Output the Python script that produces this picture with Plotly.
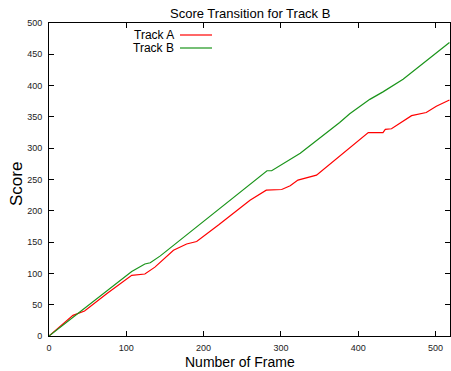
import plotly.graph_objects as go

# Data
track_a_x = [0, 31, 46, 75, 107, 124, 137, 161, 178, 191, 220, 260, 281, 301, 312, 322, 346, 389, 413, 432, 435, 443, 469, 488, 501, 518]
track_a_y = [0, 33, 40, 68, 97, 99, 110, 137, 147, 151, 178, 217, 233, 234, 240, 249, 257, 300, 325, 325, 330, 331, 352, 357, 367, 377]
track_b_x = [0, 107, 124, 131, 144, 200, 247, 260, 282, 288, 325, 376, 389, 415, 432, 458, 518]
track_b_y = [0, 103, 115, 117, 128, 183, 229, 241, 264, 264, 292, 341, 355, 378, 390, 410, 469]

x_ticks = [0, 100, 200, 300, 400, 500]
y_ticks = [0, 50, 100, 150, 200, 250, 300, 350, 400, 450, 500]

RED = "#ff0000"
GREEN = "#1a941a"
FONT = "Liberation Sans"

fig = go.Figure()
fig.add_trace(go.Scatter(x=track_a_x, y=track_a_y, mode="lines", name="Track A",
                         line=dict(color=RED, width=1.2)))
fig.add_trace(go.Scatter(x=track_b_x, y=track_b_y, mode="lines", name="Track B",
                         line=dict(color=GREEN, width=1.2)))

W, H = 451, 371
L, R, T, B = 49, 1, 23, 35
pw, ph = W - L - R, H - T - B

def px(x):
    return (x - L) / pw

def py(y):
    return (H - B - y) / ph

axis_common = dict(showgrid=False, zeroline=False, showline=True, linecolor="black",
                   linewidth=1, mirror="ticks", ticks="inside", ticklen=5,
                   tickcolor="black", tickfont=dict(family=FONT, size=9, color="#222"))

fig.update_layout(
    width=W, height=H,
    margin=dict(l=L, r=R, t=T, b=B),
    paper_bgcolor="white", plot_bgcolor="white",
    showlegend=False,
    font=dict(family=FONT, color="black"),
    xaxis=dict(range=[0, 518.7], tickvals=x_ticks, ticklabelstandoff=3, **axis_common),
    yaxis=dict(range=[0, 500], tickvals=y_ticks, ticklabelstandoff=4, **axis_common),
)

ann = [
    dict(text="Score Transition for Track B", x=px(250), y=py(14), size=13),
    dict(text="Number of Frame", x=px(240), y=py(362), size=14),
]
for a in ann:
    fig.add_annotation(text=a["text"], x=a["x"], y=a["y"], xref="paper", yref="paper",
                       showarrow=False, xanchor="center", yanchor="middle",
                       font=dict(family=FONT, size=a["size"], color="black"))
fig.add_annotation(text="Score", x=px(16), y=py(184), xref="paper", yref="paper",
                   showarrow=False, textangle=-90, xanchor="center", yanchor="middle",
                   font=dict(family=FONT, size=17, color="black"))

# Legend (gnuplot style: label then line sample)
for name, color, yy in [("Track A", RED, 35), ("Track B", GREEN, 48)]:
    fig.add_annotation(text=name, x=px(176), y=py(yy), xref="paper", yref="paper",
                       showarrow=False, xanchor="right", yanchor="middle",
                       font=dict(family=FONT, size=12, color="black"))
    fig.add_shape(type="line", xref="paper", yref="paper",
                  x0=px(180), x1=px(212), y0=py(yy), y1=py(yy),
                  line=dict(color=color, width=1.2))

fig.write_html("out.html")
